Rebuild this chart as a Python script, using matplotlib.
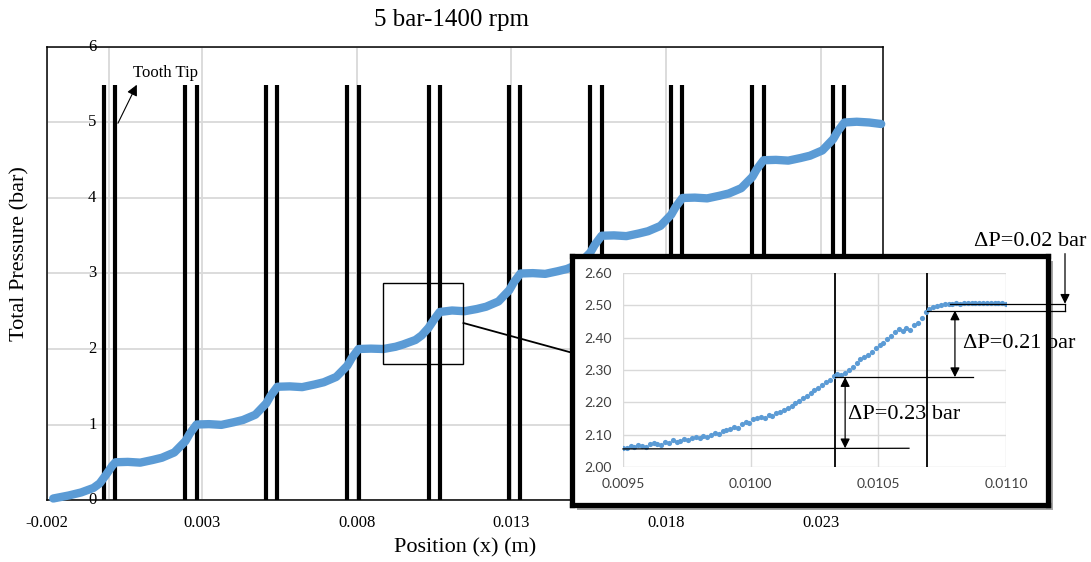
import numpy as np
import matplotlib
matplotlib.use('Agg')
import matplotlib.pyplot as plt
from matplotlib.patches import Rectangle

plt.rcParams['font.family'] = ['Liberation Serif', 'DejaVu Serif']

# --- datos de la curva principal (posicion en m, presion total en bar)
posicion = [-0.00180, -0.00130, -0.00090, -0.00050, -0.00030, -0.00010, 0.00010, 0.00021,
            0.00061, 0.00101, 0.00141, 0.00171, 0.00211, 0.00247, 0.00261, 0.00283,
            0.00323, 0.00363, 0.00403, 0.00433, 0.00473, 0.00508, 0.00522, 0.00544,
            0.00584, 0.00624, 0.00664, 0.00694, 0.00734, 0.00770, 0.00784, 0.00806,
            0.00846, 0.00886, 0.00926, 0.00950, 0.00990, 0.01010, 0.01032, 0.01050, 0.01068,
            0.01108, 0.01148, 0.01188, 0.01218, 0.01258, 0.01293, 0.01307, 0.01329,
            0.01369, 0.01409, 0.01449, 0.01479, 0.01519, 0.01555, 0.01569, 0.01591,
            0.01631, 0.01671, 0.01711, 0.01741, 0.01781, 0.01816, 0.01830, 0.01852,
            0.01892, 0.01932, 0.01972, 0.02002, 0.02042, 0.02078, 0.02092, 0.02114,
            0.02154, 0.02194, 0.02234, 0.02264, 0.02304, 0.02339, 0.02353, 0.02375,
            0.02415, 0.02455, 0.02494]
presion = [0.02, 0.06, 0.10, 0.16, 0.22, 0.33, 0.45, 0.50,
           0.505, 0.495, 0.53, 0.56, 0.63, 0.78, 0.88, 1.00,
           1.005, 0.995, 1.03, 1.06, 1.13, 1.28, 1.38, 1.50,
           1.505, 1.495, 1.53, 1.56, 1.63, 1.78, 1.88, 2.00,
           2.005, 2.00, 2.03, 2.06, 2.12, 2.18, 2.28, 2.39, 2.49,
           2.51, 2.50, 2.53, 2.56, 2.63, 2.78, 2.88, 3.00,
           3.005, 2.995, 3.03, 3.06, 3.13, 3.28, 3.38, 3.50,
           3.505, 3.495, 3.53, 3.56, 3.63, 3.78, 3.88, 4.00,
           4.005, 3.995, 4.03, 4.06, 4.13, 4.28, 4.38, 4.50,
           4.505, 4.495, 4.53, 4.56, 4.63, 4.78, 4.88, 5.00,
           5.01, 5.00, 4.98]

# posiciones de los dientes (lineas verticales)
dientes = [-0.00015, 0.00021, 0.00247, 0.00283, 0.00508, 0.00544, 0.00770, 0.00806,
           0.01032, 0.01068, 0.01293, 0.01329, 0.01555, 0.01591, 0.01816, 0.01852,
           0.02078, 0.02114, 0.02339, 0.02375]

x_ticks = [-0.002, 0.003, 0.008, 0.013, 0.018, 0.023]
x_labels = ['-0.002', '0.003', '0.008', '0.013', '0.018', '0.023']
y_ticks = [0, 1, 2, 3, 4, 5, 6]

# --- datos del detalle (zoom)
zoom_x = [0.009500, 0.009515, 0.009530, 0.009545, 0.009560, 0.009575, 0.009590, 0.009605,
          0.009620, 0.009635, 0.009650, 0.009665, 0.009680, 0.009695, 0.009710, 0.009725,
          0.009740, 0.009755, 0.009770, 0.009785, 0.009800, 0.009815, 0.009830, 0.009845,
          0.009860, 0.009875, 0.009890, 0.009905, 0.009920, 0.009935, 0.009950, 0.009965,
          0.009980, 0.009995, 0.010010, 0.010025, 0.010040, 0.010055, 0.010070, 0.010085,
          0.010100, 0.010115, 0.010130, 0.010145, 0.010160, 0.010175, 0.010190, 0.010205,
          0.010220, 0.010235, 0.010250, 0.010265, 0.010280, 0.010295, 0.010310, 0.010325,
          0.010340, 0.010355, 0.010370, 0.010385, 0.010400, 0.010415, 0.010430, 0.010445,
          0.010460, 0.010475, 0.010490, 0.010505, 0.010520, 0.010535, 0.010550, 0.010565,
          0.010580, 0.010595, 0.010610, 0.010625, 0.010640, 0.010655, 0.010670, 0.010685,
          0.010700, 0.010715, 0.010730, 0.010745, 0.010760, 0.010775, 0.010790, 0.010805,
          0.010820, 0.010835, 0.010850, 0.010865, 0.010880, 0.010895, 0.010910, 0.010925,
          0.010940, 0.010955, 0.010970, 0.010985, 0.011000]
zoom_p = [2.060, 2.058, 2.066, 2.063, 2.068, 2.064, 2.062, 2.070,
          2.074, 2.072, 2.068, 2.078, 2.075, 2.084, 2.077, 2.082,
          2.088, 2.084, 2.090, 2.094, 2.089, 2.096, 2.092, 2.099,
          2.104, 2.101, 2.110, 2.114, 2.119, 2.124, 2.121, 2.132,
          2.140, 2.137, 2.148, 2.152, 2.156, 2.153, 2.160, 2.158,
          2.166, 2.170, 2.177, 2.184, 2.190, 2.198, 2.205, 2.212,
          2.221, 2.228, 2.237, 2.244, 2.253, 2.262, 2.270, 2.282,
          2.288, 2.286, 2.292, 2.300, 2.310, 2.322, 2.334, 2.340,
          2.347, 2.356, 2.368, 2.378, 2.385, 2.396, 2.404, 2.418,
          2.426, 2.421, 2.430, 2.425, 2.438, 2.446, 2.462, 2.478,
          2.490, 2.496, 2.499, 2.501, 2.503, 2.504, 2.505, 2.506,
          2.505, 2.507, 2.506, 2.507, 2.508, 2.507, 2.506, 2.507,
          2.507, 2.506, 2.507, 2.506, 2.505]
zoom_xticks = [0.0095, 0.0100, 0.0105, 0.0110]
zoom_xlabels = ['0.0095', '0.0100', '0.0105', '0.0110']
zoom_yticks = [2.0, 2.1, 2.2, 2.3, 2.4, 2.5, 2.6]
zoom_ylabels = ['2.00', '2.10', '2.20', '2.30', '2.40', '2.50', '2.60']

azul = '#5B9BD5'
gris = '#d9d9d9'

fig = plt.figure(figsize=(10.91, 5.62), dpi=100)

# ---------------- grafica principal
ax = fig.add_axes([0.0431, 0.1103, 0.7663, 0.8061])
ax.set_xlim(-0.002, 0.025)
ax.set_ylim(0, 6)
ax.set_xticks(x_ticks)
ax.set_xticklabels(x_labels, fontsize=12)
ax.set_yticks(y_ticks)
ax.set_yticklabels([])
ax.tick_params(length=0, pad=11)
ax.grid(color=gris, lw=1.3, zorder=0)
ax.set_axisbelow(True)
for s in ax.spines.values():
    s.set_color('black')
    s.set_linewidth(1.1)
ax.axvline(0, color=gris, lw=1.3, zorder=0.5)
for v in y_ticks:
    ax.annotate(str(v), xy=(0, v), xytext=(-9, 0), textcoords='offset points',
                ha='right', va='center', fontsize=12)

ax.vlines(dientes, 0, 5.5, color='black', lw=3, zorder=2)
ax.plot(posicion, presion, color=azul, lw=6, solid_capstyle='round', solid_joinstyle='round',
        zorder=3, clip_on=False)

ax.text(0.00077, 5.66, 'Tooth Tip', fontsize=12, ha='left', va='center')
ax.annotate('', xy=(0.0009, 5.5), xytext=(0.00029, 4.99),
            arrowprops=dict(arrowstyle='-|>', color='black', lw=0.8, mutation_scale=16,
                            shrinkA=0, shrinkB=0))

ax.add_patch(Rectangle((0.00884, 1.80), 0.00261, 1.07, fill=False, ec='black', lw=1, zorder=4))
ax.plot([0.01145, 0.01487], [2.344, 1.96], color='black', lw=1.3, zorder=4, clip_on=False)

fig.text(452 / 1091, 1 - 20 / 562, '5 bar-1400 rpm', ha='center', va='center', fontsize=18)
fig.text(465 / 1091, 1 - 548 / 562, 'Position (x) (m)', ha='center', va='center', fontsize=16)
fig.text(20 / 1091, 1 - 254 / 562, 'Total Pressure (bar)', ha='center', va='center',
         rotation=90, fontsize=16)

# ---------------- recuadro del detalle
caja_pos = [572 / 1091, 1 - 505 / 562, 476 / 1091, 249 / 562]
sombra = fig.add_axes([caja_pos[0] + 5 / 1091, caja_pos[1] - 5 / 562, caja_pos[2], caja_pos[3]], zorder=2)
sombra.set_facecolor('#a6a6a6')
sombra.set_xticks([])
sombra.set_yticks([])
for s in sombra.spines.values():
    s.set_visible(False)

caja = fig.add_axes(caja_pos, zorder=3)
caja.set_facecolor('white')
caja.set_xticks([])
caja.set_yticks([])
for s in caja.spines.values():
    s.set_linewidth(3.8)
    s.set_color('black')

axz = fig.add_axes([0.5710, 0.1690, 0.3511, 0.3452], zorder=4)
axz.set_xlim(0.0095, 0.0110)
axz.set_ylim(2.0, 2.6)
axz.set_xticks(zoom_xticks)
axz.set_xticklabels(zoom_xlabels, fontsize=10, family='Lato', color='#404040')
axz.set_yticks(zoom_yticks)
axz.set_yticklabels(zoom_ylabels, fontsize=10, family='Lato', color='#404040')
axz.tick_params(length=0, pad=8)
axz.grid(color=gris, lw=1.0)
axz.set_axisbelow(True)
for s in axz.spines.values():
    s.set_visible(False)
axz.patch.set_alpha(0)

axz.vlines([0.01033, 0.01069], 2.0, 2.6, color='black', lw=1.3, zorder=3)
axz.scatter(zoom_x, zoom_p, s=14, color=azul, zorder=4, linewidths=0)

k = dict(color='black', lw=0.9, clip_on=False, zorder=5)
axz.plot([0.0095, 0.01062], [2.056, 2.058], **k)
axz.plot([0.01033, 0.01087], [2.278, 2.278], **k)
axz.plot([0.01069, 0.011231], [2.484, 2.484], **k)
axz.plot([0.01078, 0.011231], [2.505, 2.505], **k)
axz.plot([0.011231, 0.011231], [2.484, 2.505], **k)

flecha = dict(arrowstyle='<|-|>', color='black', lw=0.9, mutation_scale=14, shrinkA=0, shrinkB=0)
axz.annotate('', xy=(0.01037, 2.058), xytext=(0.01037, 2.278), arrowprops=flecha, annotation_clip=False)
axz.annotate('', xy=(0.0108, 2.278), xytext=(0.0108, 2.484), arrowprops=flecha, annotation_clip=False)
axz.annotate('', xy=(0.011231, 2.505), xytext=(0.011231, 2.66),
             arrowprops=dict(arrowstyle='-|>', color='black', lw=0.9, mutation_scale=14,
                             shrinkA=0, shrinkB=0), annotation_clip=False)

axz.text(0.01038, 2.161, 'ΔP=0.23 bar', fontsize=16, ha='left', va='center', zorder=6)
axz.text(0.01083, 2.381, 'ΔP=0.21 bar', fontsize=16, ha='left', va='center', zorder=6, clip_on=False)
axz.text(0.011094, 2.696, 'ΔP=0.02 bar', fontsize=16, ha='center', va='center', zorder=6, clip_on=False)

fig.savefig('out.png', dpi=100)
